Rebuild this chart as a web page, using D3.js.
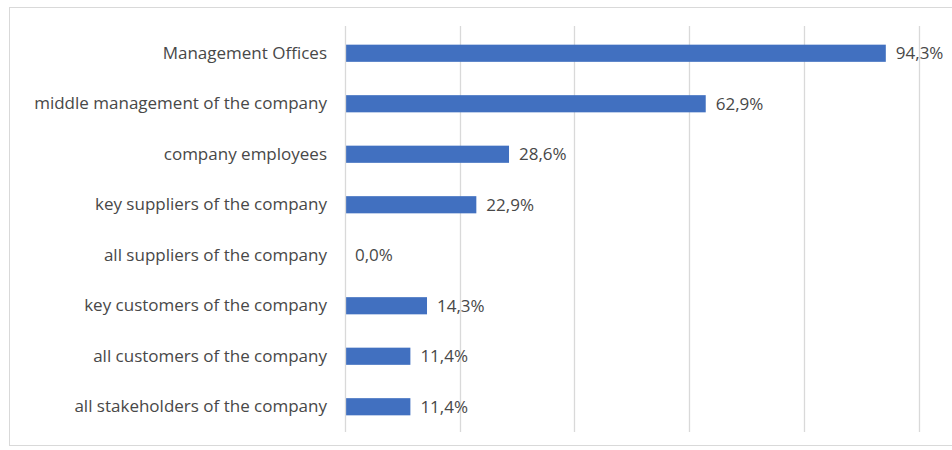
<!DOCTYPE html>
<html>
<head>
<meta charset="utf-8">
<script src="https://cdn.jsdelivr.net/npm/d3@7/dist/d3.min.js"></script>
<style>
  html, body { margin: 0; padding: 0; background: #fff; }
  svg { display: block; }
  text { font-family: "Open Sans", "Liberation Sans", sans-serif; fill: #484848; }
</style>
</head>
<body>
<svg id="chart" width="952" height="450"></svg>
<script>
// Survey: who is involved in the process (share of respondents)
const categories = [
  "Management Offices",
  "middle management of the company",
  "company employees",
  "key suppliers of the company",
  "all suppliers of the company",
  "key customers of the company",
  "all customers of the company",
  "all stakeholders of the company"
];
const values = [94.3, 62.9, 28.6, 22.9, 0.0, 14.3, 11.4, 11.4];
const gridTicks = [0, 20, 40, 60, 80, 100];

const svg = d3.select("#chart");
const FONT = 17;

// outer chart frame (runs past the right edge of the view)
svg.append("rect")
  .attr("x", 9.5).attr("y", 7.5)
  .attr("width", 960).attr("height", 438)
  .attr("fill", "#fff")
  .attr("stroke", "#d9d9d9").attr("stroke-width", 1);

const x = d3.scaleLinear().domain([0, 100]).range([345, 918.5]);
const y = d3.scaleBand().domain(categories).range([28, 432]).paddingInner(0.66).paddingOuter(0.33);

// vertical gridlines
svg.append("g").selectAll("line")
  .data(gridTicks.slice(1))
  .join("line")
  .attr("x1", d => Math.round(x(d)) + 0.5).attr("x2", d => Math.round(x(d)) + 0.5)
  .attr("y1", 26).attr("y2", 432)
  .attr("stroke", "#d9d9d9").attr("stroke-width", 1.3);

// bars
svg.append("g").selectAll("rect")
  .data(values)
  .join("rect")
  .attr("x", x(0))
  .attr("y", (d, i) => y(categories[i]))
  .attr("width", d => x(d) - x(0))
  .attr("height", y.bandwidth())
  .attr("fill", "#4170c0");

// category axis line
svg.append("line")
  .attr("x1", x(0) + 0.5).attr("x2", x(0) + 0.5)
  .attr("y1", 26).attr("y2", 432)
  .attr("stroke", "#d9d9d9").attr("stroke-width", 1.3);

// category labels
const yAxis = d3.axisLeft(y).tickSize(0).tickPadding(18);
const ga = svg.append("g").attr("transform", `translate(${x(0)},0)`).call(yAxis);
ga.select(".domain").remove();
ga.selectAll("text")
  .attr("font-size", FONT)
  .attr("font-family", "'Open Sans', 'Liberation Sans', sans-serif")
  .attr("fill", "#484848");

// value labels
const fmt = v => v.toFixed(1).replace(".", ",") + "%";
svg.append("g").selectAll("text")
  .data(values)
  .join("text")
  .attr("x", d => x(d) + 10)
  .attr("y", (d, i) => y(categories[i]) + y.bandwidth() / 2)
  .attr("dy", "0.35em")
  .attr("font-size", FONT)
  .text(fmt);
</script>
</body>
</html>
